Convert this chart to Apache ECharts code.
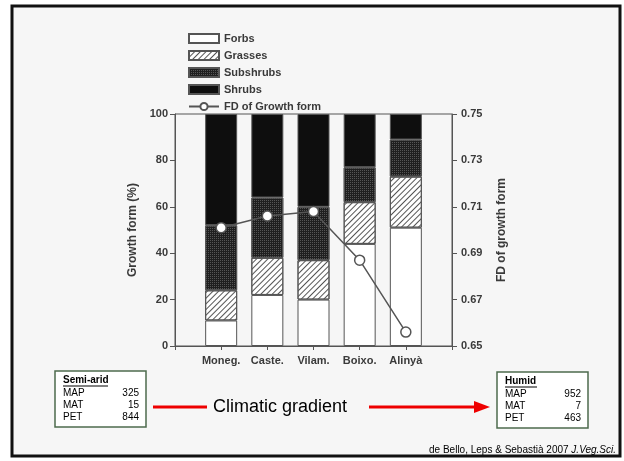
<!DOCTYPE html>
<html>
<head>
<meta charset="utf-8">
<script src="https://cdn.jsdelivr.net/npm/echarts@6/dist/echarts.min.js"></script>
<style>
  html, body { margin: 0; padding: 0; background: #fff; }
  #chart { width: 624px; height: 461px; }
</style>
</head>
<body>
<div id="chart"></div>
<script>
// Sites along the climatic gradient (semi-arid -> humid)
const sites = ['Moneg.', 'Caste.', 'Vilam.', 'Boixo.', 'Alinyà'];

// Growth form composition (%) per site
const forbs     = [11, 22, 20, 44, 51];
const grasses   = [13, 16, 17, 18, 22];
const subshrubs = [28, 26, 23, 15, 16];
const shrubs    = [48, 36, 40, 23, 11];

// Functional diversity of growth form per site
const fdGrowth = [0.701, 0.706, 0.708, 0.687, 0.656];

// Tick labels
const pctTicks = [0, 20, 40, 60, 80, 100];
const fdTicks = [0.65, 0.67, 0.69, 0.71, 0.73, 0.75];

// Climate summaries for the two ends of the gradient
const climateRows = ['MAP', 'MAT', 'PET'];
const semiAridValues = [325, 15, 844];
const humidValues = [952, 7, 463];

// The category axis keeps an empty slot at each end so the bars sit inside the frame
const axisSlots = [''].concat(sites, ['']);
const padded = arr => [null].concat(arr, [null]);

const chart = echarts.init(document.getElementById('chart'), null, { renderer: 'canvas' });

const axisColor = '#555';
const textColor = '#3a3a3a';
const labelFont = { fontFamily: 'Arial, "Liberation Sans", sans-serif', fontWeight: 'bold', fontSize: 11, color: textColor };

function stackSeries(name, values, itemStyle) {
  return {
    name: name,
    type: 'bar',
    stack: 'growth',
    barWidth: 32,
    yAxisIndex: 0,
    itemStyle: Object.assign({ borderColor: '#555', borderWidth: 1 }, itemStyle),
    emphasis: { disabled: true },
    data: padded(values)
  };
}

function climateBox(x, y, title, values) {
  const els = [
    { type: 'rect', shape: { x: x, y: y, width: 91, height: 56 },
      style: { fill: '#fff', stroke: '#4d6b4d', lineWidth: 1.5 } },
    { type: 'text', x: x + 8, y: y + 4,
      style: { text: title, font: 'bold 10px Arial, "Liberation Sans", sans-serif', fill: '#000' } },
    { type: 'line', shape: { x1: x + 8, y1: y + 15, x2: x + 8 + (title.length > 6 ? 45 : 32), y2: y + 15 },
      style: { stroke: '#000', lineWidth: 1 } }
  ];
  climateRows.forEach((r, i) => {
    els.push({ type: 'text', x: x + 8, y: y + 17 + i * 12,
      style: { text: r, font: '10px Arial, "Liberation Sans", sans-serif', fill: '#000' } });
    els.push({ type: 'text', x: x + 84, y: y + 17 + i * 12,
      style: { text: String(values[i]), align: 'right', font: '10px Arial, "Liberation Sans", sans-serif', fill: '#000' } });
  });
  return els;
}

const graphics = [
  { type: 'rect', z: -10, shape: { x: 12, y: 6, width: 608, height: 450 },
    style: { fill: '#f6f6f6', stroke: '#111', lineWidth: 3 } }
].concat(
  climateBox(55, 371, 'Semi-arid', semiAridValues),
  climateBox(497, 372, 'Humid', humidValues),
  [
    { type: 'line', shape: { x1: 153, y1: 407, x2: 207, y2: 407 },
      style: { stroke: '#e00', lineWidth: 3 } },
    { type: 'text', x: 213, y: 407,
      style: { text: 'Climatic gradient', verticalAlign: 'middle', font: '18px Arial, "Liberation Sans", sans-serif', fill: '#000' } },
    { type: 'line', shape: { x1: 369, y1: 407, x2: 476, y2: 407 },
      style: { stroke: '#e00', lineWidth: 3 } },
    { type: 'polygon', shape: { points: [[474, 401], [490, 407], [474, 413]] },
      style: { fill: '#e00' } },
    { type: 'text', x: 616, y: 450,
      style: {
        text: '{n|de Bello, Leps & Sebastià 2007 }{i|J.Veg.Sci.}',
        align: 'right', verticalAlign: 'middle',
        rich: {
          n: { font: '10px Arial, "Liberation Sans", sans-serif', fill: '#000' },
          i: { font: 'italic 10px Arial, "Liberation Sans", sans-serif', fill: '#000' }
        }
      } }
  ]
);

chart.setOption({
  animation: false,
  backgroundColor: '#fff',
  grid: {
    left: 175, right: 172, top: 114, bottom: 115,
    show: true, borderColor: axisColor, borderWidth: 1, backgroundColor: 'transparent'
  },
  legend: {
    orient: 'vertical',
    left: 183, top: 28,
    itemWidth: 30, itemHeight: 9, itemGap: 6,
    textStyle: labelFont,
    data: [
      { name: 'Forbs', icon: 'rect' },
      { name: 'Grasses', icon: 'rect' },
      { name: 'Subshrubs', icon: 'rect' },
      { name: 'Shrubs', icon: 'rect' },
      { name: 'FD of Growth form' }
    ]
  },
  xAxis: {
    type: 'category',
    data: axisSlots,
    boundaryGap: false,
    splitLine: { show: false },
    axisLine: { show: true, lineStyle: { color: axisColor } },
    axisTick: { show: true, length: 4, alignWithLabel: true, lineStyle: { color: axisColor } },
    axisLabel: Object.assign({ margin: 9, interval: 0 }, labelFont)
  },
  yAxis: [
    {
      type: 'value', min: 0, max: 100, interval: 20,
      name: 'Growth form (%)', nameLocation: 'middle', nameGap: 36,
      nameTextStyle: Object.assign({}, labelFont, { fontSize: 12 }),
      splitLine: { show: false },
      axisLine: { show: true, lineStyle: { color: axisColor } },
      axisTick: { show: true, length: 5, lineStyle: { color: axisColor } },
      axisLabel: Object.assign({ margin: 7, customValues: pctTicks }, labelFont)
    },
    {
      type: 'value', min: 0.65, max: 0.75, position: 'right',
      name: 'FD of growth form', nameLocation: 'middle', nameGap: 44, nameRotate: 90,
      nameTextStyle: Object.assign({}, labelFont, { fontSize: 12 }),
      splitLine: { show: false },
      axisLine: { show: true, lineStyle: { color: axisColor } },
      axisTick: { show: true, length: 5, lineStyle: { color: axisColor }, customValues: fdTicks },
      axisLabel: Object.assign({ margin: 9, customValues: fdTicks, formatter: v => v.toFixed(2) }, labelFont)
    }
  ],
  series: [
    stackSeries('Forbs', forbs, { color: '#fff' }),
    stackSeries('Grasses', grasses, {
      color: '#fff',
      decal: { symbol: 'rect', symbolSize: 1, dashArrayX: [[1, 0]], dashArrayY: [1, 3], rotation: -Math.PI / 4, color: '#555' }
    }),
    stackSeries('Subshrubs', subshrubs, {
      color: '#1f1f1f',
      decal: { symbol: 'rect', symbolSize: 1, dashArrayX: [1, 1], dashArrayY: [1, 1], color: '#555' }
    }),
    stackSeries('Shrubs', shrubs, { color: '#0e0e0e' }),
    {
      name: 'FD of Growth form',
      type: 'line',
      yAxisIndex: 1,
      symbol: 'circle',
      symbolSize: 10,
      lineStyle: { color: '#555', width: 1.5 },
      itemStyle: { color: '#fff', borderColor: '#555', borderWidth: 1.5 },
      emphasis: { disabled: true },
      data: padded(fdGrowth)
    }
  ],
  graphic: graphics
});
</script>
</body>
</html>
